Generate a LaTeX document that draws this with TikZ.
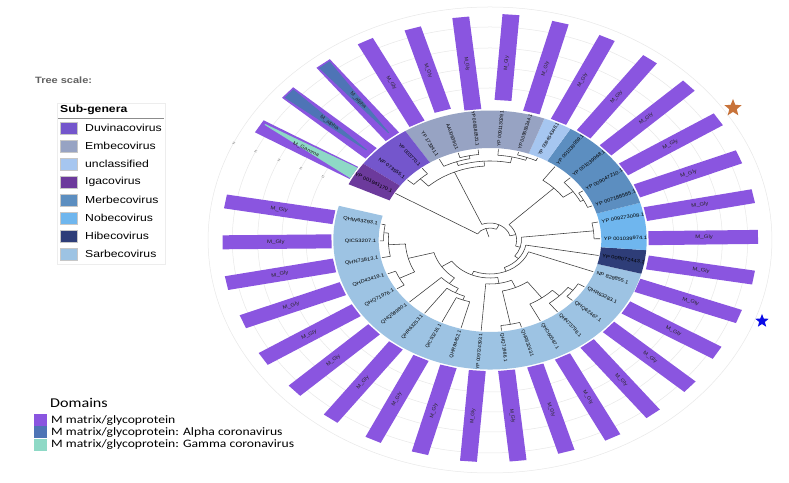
\documentclass[tikz,border=0pt]{standalone}
\usepackage{fontspec}
\usepackage{graphicx}
\setmainfont{Liberation Sans}
\newfontfamily\carlito{Carlito}
\usetikzlibrary{shapes.geometric}
\definecolor{barc}{HTML}{8A55E0}
\definecolor{alphab}{HTML}{4E74B6}
\definecolor{gammat}{HTML}{8ED9C6}
\definecolor{duvina}{HTML}{7456CC}
\definecolor{embeco}{HTML}{97A3C3}
\definecolor{unclass}{HTML}{A6C6F0}
\definecolor{igaco}{HTML}{6C3A9C}
\definecolor{merbeco}{HTML}{5C8EC0}
\definecolor{nobeco}{HTML}{6FB6EE}
\definecolor{hibeco}{HTML}{2E3D78}
\definecolor{sarbeco}{HTML}{9DC3E3}
\definecolor{starorange}{HTML}{C8733A}
\definecolor{starblue}{HTML}{0B0BE6}
\newcommand\hst[1]{\scalebox{1.2}[1]{#1}}
\tikzset{
  tree/.style={draw=black!78, line width=0.55bp},
  lbl/.style={font=\fontsize{4.8}{5}\selectfont, inner sep=0bp},
  bartxt/.style={font=\fontsize{5}{6}\selectfont, inner sep=0bp, text=black!85},
  guide/.style={draw=black!9, line width=0.5bp},
  leg/.style={font=\fontsize{10.2}{12}\selectfont, anchor=west, inner sep=0bp},
  dleg/.style={font=\carlito\fontsize{11.4}{13}\selectfont, anchor=west, inner sep=0bp},
}
\newcommand\leaflabel[3]{%
  \pgfmathsetmacro\va{atan2(sin(#2),1.21*cos(#2))}%
  \pgfmathsetmacro\sfac{sqrt(1.4641*cos(#2)^2+sin(#2)^2)}%
  \pgfmathtruncatemacro\lft{cos(#2)<0 ? 1 : 0}%
  \ifnum\lft=1
    \node[lbl, anchor=east, rotate=\va+180] (#1) at (#2:94) {\scalebox{\sfac}[1]{#3}};%
  \else
    \node[lbl, anchor=west, rotate=\va] (#1) at (#2:94) {\scalebox{\sfac}[1]{#3}};%
  \fi}
\newcommand\bartext[3]{%
  \pgfmathsetmacro\va{atan2(sin(#2),1.21*cos(#2))}%
  \pgfmathsetmacro\sfac{sqrt(1.4641*cos(#2)^2+sin(#2)^2)}%
  \pgfmathtruncatemacro\lft{cos(#2)<0 ? 1 : 0}%
  \ifnum\lft=1
    \node[bartxt, rotate=\va+180] (#1) at (#2:177) {\scalebox{\sfac}[1]{#3}};%
  \else
    \node[bartxt, rotate=\va] (#1) at (#2:177) {\scalebox{\sfac}[1]{#3}};%
  \fi}
\newcommand\sect[3]{\fill[#3] (#1:92) arc[start angle=#1, end angle=#2, radius=92] -- (#2:129.5) arc[start angle=#2, end angle=#1, radius=129.5] -- cycle;}
\begin{document}
\begin{tikzpicture}[x=1bp,y=1bp]
\useasboundingbox (0,0) rectangle (789,483);
\fill[white] (0,0) rectangle (789,483);
\begin{scope}[shift={(490,243)}, xscale=1.21]
  % guide circles
  \foreach \rr in {152,172,192,213,233} {\draw[guide] (0,0) circle[radius=\rr];}
  \foreach \rr in {152,172,192,213,233} {\draw[black!35, line width=0.5bp, rotate=155.5] (\rr-1,-1.2) -- (\rr+1,-1.2) (\rr-1,0.2) -- (\rr+1,0.2);}
  % ring sectors
  \sect{164.7}{344.9}{sarbeco}
  \sect{344.9}{355.5}{hibeco}
  \sect{355.5}{376.7}{nobeco}
  \sect{376.7}{419.1}{merbeco}
  \sect{419.1}{429.7}{unclass}
  \sect{429.7}{482.7}{embeco}
  \sect{482.7}{503.9}{duvina}
  \sect{503.9}{514.5}{igaco}
  % bars
  \foreach \i/\ri/\ro in {0/131/222, 1/131/221, 2/131/222, 3/131/220, 4/131/222, 5/131/221, 6/131/222, 7/131/222, 8/131/221, 9/131/222, 10/131/222, 11/131/221, 12/131/222, 13/131/220, 14/131/221, 15/131/219, 16/130/219.5, 17/132/221, 18/131/221.5, 19/131/222, 20/131/222, 21/131/224, 22/131/225.5, 23/131/224, 24/131/224, 25/132/225, 26/140/226, 27/131/224, 28/135/221, 29/131/224, 30/131/224, 31/131/223, 32/131/222} {
    \pgfmathsetmacro\ta{170+10.6*\i}
    \fill[barc, rotate=\ta] (\ri,-7) -- (\ro,-7) -- (\ro,7) -- (\ri,7) -- cycle;
  }
  \fill[alphab, rotate=488] (222.5,-5.5) -- (222.5,5.5) -- (136,0.4) -- (136,-0.4) -- cycle;
  \fill[alphab, rotate=498.6] (221.5,-5.5) -- (221.5,5.5) -- (136,0.4) -- (136,-0.4) -- cycle;
  \fill[gammat, rotate=509.2] (131,-6) -- (131,6) -- (219,-3.5) -- (219,-4.5) -- cycle;
  % bar texts
  \foreach \i in {0,...,29} {
    \pgfmathsetmacro\ta{170+10.6*\i}
    \bartext{B\i}{\ta}{M\_Gly}
  }
  \bartext{B30}{488}{M\_alpha}
  \bartext{B31}{498.6}{M\_alpha}
  \bartext{B32}{509.2}{M\_Gamma}
  % tree arcs
  \foreach \aa/\bb/\rr in {170/180.6/88, 175.3/191.2/84, 201.8/212.4/84, 183.25/207.1/70, 244.2/254.8/64, 233.6/249.5/60, 223/241.55/55, 195.2/232.3/48, 276/286.6/86, 318.4/329/85, 307.8/323.7/80, 297.2/315.75/72, 281.3/306.5/52, 265.4/293.9/44, 213.75/279.65/38, 246.7/339.6/34, 293.15/350.2/30, 321.7/366.1/26, 343.9/404.5/22, 374.2/473.4/17, 423.8/509.2/12, 360.8/371.4/86, 382/392.6/87, 387.3/403.2/84, 395.25/413.8/74, 488/498.6/84, 456.2/466.8/86, 461.5/477.4/83, 424.4/435/88, 429.7/445.6/85, 437.65/469.45/79, 453.55/493.3/74} {
    \draw[tree] (\aa:\rr) arc[start angle=\aa, end angle=\bb, radius=\rr];
  }
  % tree radial branches
  \foreach \aa/\pp/\qq in {170/88/91, 180.6/88/91, 175.3/84/88, 191.2/84/91, 201.8/84/91, 212.4/84/91, 183.25/70/84, 207.1/70/84, 244.2/64/91, 254.8/64/91, 233.6/60/91, 249.5/60/64, 223/55/91, 241.55/55/60, 195.2/48/70, 232.3/48/55, 276/86/91, 286.6/86/91, 318.4/85/91, 329/85/91, 307.8/80/91, 323.7/80/85, 297.2/72/91, 315.75/72/80, 281.3/52/86, 306.5/52/72, 265.4/44/91, 293.9/44/52, 213.75/38/48, 279.65/38/44, 246.7/34/38, 339.6/34/91, 293.15/30/34, 350.2/30/91, 321.7/26/30, 366.1/26/86, 343.9/22/26, 404.5/22/74, 374.2/17/22, 473.4/17/74, 423.8/12/17, 509.2/12/91, 466.5/3/12, 360.8/86/91, 371.4/86/91, 382/87/91, 392.6/87/91, 387.3/84/87, 403.2/84/91, 395.25/74/84, 413.8/74/91, 488/84/91, 498.6/84/91, 456.2/86/91, 466.8/86/91, 461.5/83/86, 477.4/83/91, 424.4/88/91, 435/88/91, 429.7/85/88, 445.6/85/91, 437.65/79/85, 469.45/79/83, 453.55/74/79, 493.3/74/84} {
    \draw[tree] (\aa:\pp) -- (\aa:\qq);
  }
  % leaf labels
  \foreach \i/\lbl in {0/QHW63293.1, 1/QIC53207.1, 2/QHN73813.1, 3/QHD43419.1, 4/QHQ71976.1, 5/QHQ58980.1, 6/QHR63253.1, 7/QIC53216.1, 8/QHR84452.1, 9/YP 009724393.1, 10/QHQ71986.1, 11/QHR63263.1, 12/QHO60587.1, 13/QHN73798.1, 14/QHQ62467.1, 15/QHR63283.1, 16/NP 828855.1, 17/YP 009072443.1, 18/YP 001039974.1, 19/YP 009273008.1, 20/YP 007188585.1, 21/YP 009047210.1, 22/YP 001039968.1, 23/YP 001039959.1, 24/YP 009454348.1, 25/YP 009555244.1, 26/YP 009113029.1, 27/YP 009380521.1, 28/AAU06360.1, 29/YP 173241.1, 30/YP 003770.1, 31/NP 073555.1, 32/YP 001941170.1} {
    \pgfmathsetmacro\ta{170+10.6*\i}
    \leaflabel{L\i}{\ta}{\lbl}
  }
\end{scope}
% stars
\node[star, star points=5, star point ratio=2.3, fill=starorange, minimum size=18bp, inner sep=0bp] (st1) at (733,375) {};
\node[star, star points=5, star point ratio=2.3, fill=starblue, minimum size=14bp, inner sep=0bp] (st2) at (762,162) {};
% tree scale
\node[anchor=west, inner sep=0bp, text=black!62, font=\bfseries\fontsize{9.2}{11}\selectfont] (ts) at (35,403) {\hst{Tree scale:}};
% sub-genera legend
\draw[black!7, line width=0.6bp] (57,219) rectangle (165,380);
\node[anchor=west, inner sep=0bp, font=\bfseries\fontsize{10.2}{12}\selectfont] (sg) at (60,373) {\hst{Sub-genera}};
\draw[black!45, line width=0.8bp] (58,365) -- (164,365);
\foreach \k/\cc/\txt in {0/duvina/Duvinacovirus, 1/embeco/Embecovirus, 2/unclass/unclassified, 3/igaco/Igacovirus, 4/merbeco/Merbecovirus, 5/nobeco/Nobecovirus, 6/hibeco/Hibecovirus, 7/sarbeco/Sarbecovirus} {
  \pgfmathsetmacro\yy{354.7-18*\k}
  \fill[\cc, draw=black!22, line width=0.4bp] (60,\yy-6.2) rectangle (77,\yy+6.2);
  \node[leg] (sg\k) at (85,\yy) {\hst{\txt}};
}
% domains legend
\node[anchor=west, inner sep=0bp, font=\carlito\fontsize{13.5}{15}\selectfont] (dm) at (50,80) {\hst{Domains}};
\fill[barc] (34,56.5) rectangle (46.7,68.5);
\fill[alphab] (34,44.5) rectangle (46.7,56.5);
\fill[gammat] (34,32) rectangle (46.7,44);
\node[dleg] (d1) at (51,62.5) {\hst{M matrix/glycoprotein}};
\node[dleg] (d2) at (51,50.5) {\hst{M matrix/glycoprotein: Alpha coronavirus}};
\node[dleg] (d3) at (51,38) {\hst{M matrix/glycoprotein: Gamma coronavirus}};
\end{tikzpicture}
\end{document}
